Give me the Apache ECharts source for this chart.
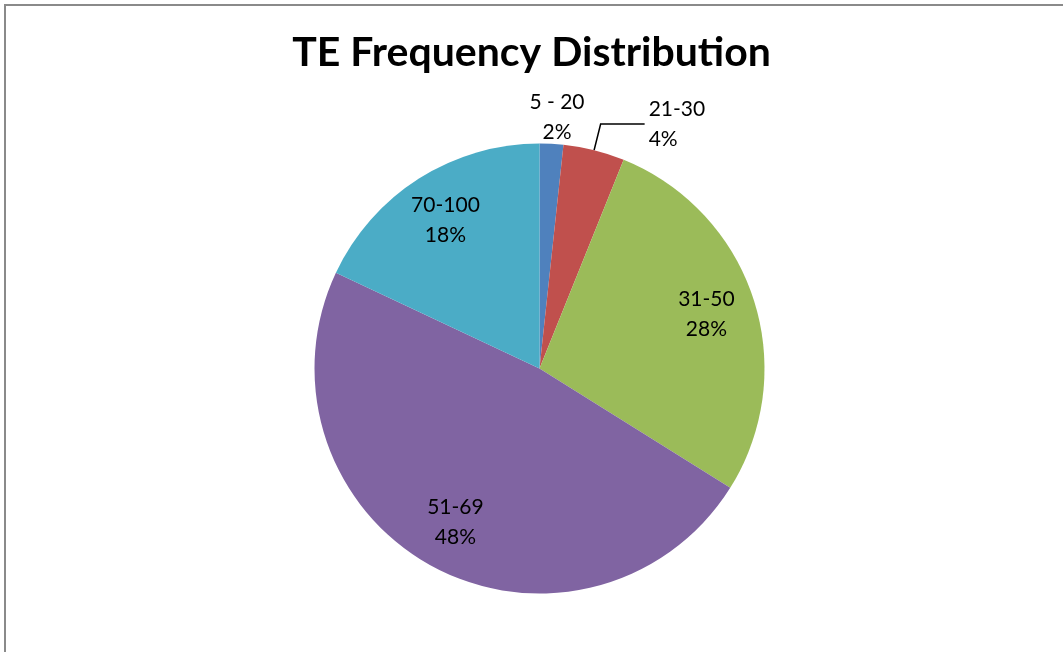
<!DOCTYPE html>
<html>
<head>
<meta charset="utf-8">
<script src="https://cdn.jsdelivr.net/npm/echarts@6/dist/echarts.min.js"></script>
<style>
  html, body { margin: 0; padding: 0; background: #fff; }
  #chart { position: absolute; left: 0; top: 0; width: 1063px; height: 652px; }
  #frame { position: absolute; left: 4px; top: 4px; width: 1063px; height: 652px;
           border-left: 2px solid #8a8a8a; border-top: 2px solid #8a8a8a; pointer-events: none; }
</style>
</head>
<body>
<div id="chart"></div>
<div id="frame"></div>
<script>
const titleText = 'TE Frequency Distribution';
const categories = ['5 - 20', '21-30', '31-50', '51-69', '70-100'];
const values = [1.7, 4.4, 27.8, 48.1, 18.0];
const colors = ['#4F81BD', '#C0504D', '#9BBB59', '#8064A2', '#4BACC6'];

const center = [539.5, 368.5];
const R = 225;

const pieData = categories.map((c, i) => ({ name: c, value: values[i], itemStyle: { color: colors[i] } }));

const labelData = categories.map((c, i) => {
  const item = { name: c, value: values[i] };
  if (i === 0) {
    item.label = { position: 'outside' };
    item.labelLine = { show: false, length: 27, length2: 0 };
  } else if (i === 1) {
    item.label = { position: 'outside' };
    item.labelLine = { show: true, length: 27, length2: 44, lineStyle: { color: '#000', width: 1.5 } };
  } else {
    item.label = { position: 'inside' };
  }
  return item;
});

const chart = echarts.init(document.getElementById('chart'), null, { renderer: 'canvas' });
chart.setOption({
  backgroundColor: 'transparent',
  animation: false,
  title: {
    text: titleText,
    left: 'center',
    top: 27,
    textStyle: { fontFamily: 'Lato', fontWeight: 'bold', fontSize: 41, color: '#000' }
  },
  series: [
    {
      type: 'pie',
      center: center,
      radius: [0, R],
      startAngle: 90,
      clockwise: true,
      silent: true,
      label: { show: false },
      labelLine: { show: false },
      itemStyle: { borderWidth: 0 },
      data: pieData
    },
    {
      type: 'pie',
      center: center,
      radius: [120, R],
      startAngle: 90,
      clockwise: true,
      silent: true,
      avoidLabelOverlap: false,
      percentPrecision: 0,
      itemStyle: { color: 'rgba(0,0,0,0)', borderWidth: 0 },
      label: {
        show: true,
        formatter: '{b}\n{d}%',
        fontFamily: 'Lato',
        fontSize: 21,
        lineHeight: 30,
        color: '#000',
        distanceToLabelLine: 4
      },
      labelLayout: function (p) {
        if (p.dataIndex === 0) return { align: 'center' };
        return {};
      },
      data: labelData
    }
  ]
});
</script>
</body>
</html>
